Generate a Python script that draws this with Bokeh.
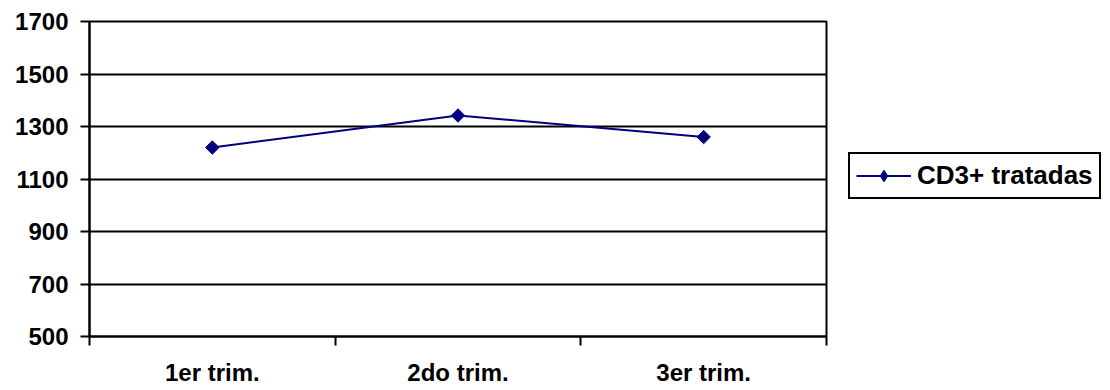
from bokeh.plotting import figure
from bokeh.layouts import row
from bokeh.models import Range1d, FixedTicker, Legend, LegendItem, ColumnDataSource
from bokeh.embed import file_html
from bokeh.resources import INLINE
import numpy as np

# Quarterly values
categories = ["1er trim.", "2do trim.", "3er trim."]
values = [1220, 1342, 1260]
series_name = "CD3+ tratadas"
y_ticks = [500, 700, 900, 1100, 1300, 1500, 1700]

# each category occupies one unit; points sit at the middle of their slot
slots = np.arange(len(categories))
centers = slots + 0.5
source = ColumnDataSource(data=dict(x=centers, y=values))

FONT = "Liberation Sans"
NAVY = "#000080"

p = figure(
    width=840, height=390,
    x_range=Range1d(0, len(categories)),
    y_range=Range1d(y_ticks[0], y_ticks[-1]),
    output_backend="svg", toolbar_location=None,
    min_border_left=89, min_border_right=14,
    min_border_top=21, min_border_bottom=54,
)
p.background_fill_color = "white"
p.border_fill_color = "white"
p.outline_line_color = "black"
p.outline_line_width = 2

# horizontal grid only
p.xgrid.visible = False
p.ygrid.ticker = FixedTicker(ticks=y_ticks)
p.ygrid.grid_line_color = "black"
p.ygrid.grid_line_width = 2

# y axis
p.yaxis.ticker = FixedTicker(ticks=y_ticks)
p.yaxis.axis_line_width = 2
p.yaxis.major_tick_line_width = 2
p.yaxis.major_tick_out = 9
p.yaxis.major_tick_in = 0
p.yaxis.minor_tick_line_color = None
p.yaxis.major_label_standoff = 12
p.yaxis.major_label_text_font = FONT
p.yaxis.major_label_text_font_style = "bold"
p.yaxis.major_label_text_font_size = "24px"
p.yaxis.major_label_text_color = "black"

# x axis: labels in the middle of each slot, tick marks on the slot boundaries
p.xaxis.ticker = FixedTicker(ticks=list(centers),
                             minor_ticks=list(np.arange(len(categories) + 1)))
p.xaxis.major_label_overrides = {float(c): name for c, name in zip(centers, categories)}
p.xaxis.axis_line_width = 2
p.xaxis.major_tick_line_color = None
p.xaxis.major_tick_out = 9
p.xaxis.major_tick_in = 0
p.xaxis.minor_tick_line_color = "black"
p.xaxis.minor_tick_line_width = 2
p.xaxis.minor_tick_out = 9
p.xaxis.minor_tick_in = 0
p.xaxis.major_label_standoff = 13
p.xaxis.major_label_text_font = FONT
p.xaxis.major_label_text_font_style = "bold"
p.xaxis.major_label_text_font_size = "24px"
p.xaxis.major_label_text_color = "black"

# series
p.line("x", "y", source=source, line_color=NAVY, line_width=2)
p.scatter("x", "y", source=source, marker="square", size=9.5, angle=np.pi / 4,
          fill_color=NAVY, line_color=NAVY)

# legend panel to the right of the chart (its frame is aligned with the chart's)
q = figure(
    width=270, height=390,
    x_range=Range1d(0, 1), y_range=Range1d(0, 1),
    x_axis_type=None, y_axis_type=None,
    output_backend="svg", toolbar_location=None,
    min_border=0,
)
q.outline_line_color = None
q.xgrid.visible = False
q.ygrid.visible = False
q.background_fill_color = "white"
q.border_fill_color = "white"

# series styles repeated here (outside this panel's view) to serve as legend swatches
key_line = q.line("x", "y", source=source, line_color=NAVY, line_width=2)
key_mark = q.scatter("x", "y", source=source, marker="diamond",
                     fill_color=NAVY, line_color=NAVY)

legend = Legend(
    items=[LegendItem(label=series_name, renderers=[key_line, key_mark])],
    location=(8, 137),
    border_line_color="black", border_line_width=2, border_line_alpha=1,
    background_fill_color="white", background_fill_alpha=1,
    padding=6, margin=0, spacing=0,
    glyph_width=55, glyph_height=29, label_height=29,
    label_standoff=6,
    label_text_font=FONT, label_text_font_style="bold",
    label_text_font_size="26px", label_text_color="black",
)
q.add_layout(legend)

open("out.html", "w").write(file_html(row(p, q), INLINE))
